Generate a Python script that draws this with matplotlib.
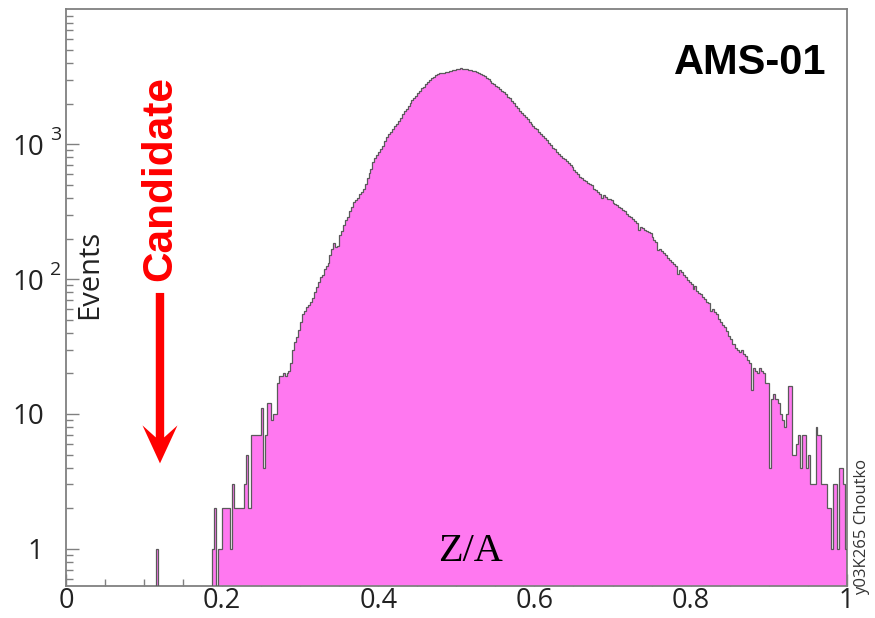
import numpy as np
import matplotlib
matplotlib.use("Agg")
import matplotlib.pyplot as plt
from matplotlib.patches import Polygon
from matplotlib.transforms import ScaledTranslation, blended_transform_factory
from matplotlib.ticker import FixedLocator, FixedFormatter, MultipleLocator, LogLocator, NullFormatter

plt.rcParams['font.family'] = ['Open Sans', 'DejaVu Sans']

# ---- histogram data: Z/A in bins of 0.0025 from 0 to 1 ----
bin_width = 0.0025
n_bins = 400
candidate_bin = 46          # 0.115 - 0.1175
candidate_count = 1
body_first_bin = 75         # first filled bin of the main population (0.1875)
body_counts = [
    1, 2, 0, 1, 1, 2, 2, 2, 2, 1,
    3, 2, 2, 2, 2, 2, 3, 5, 2, 2,
    7, 7, 7, 7, 7, 11, 4, 7, 12, 12,
    9, 10, 10, 17, 19, 19, 20, 19, 20, 21,
    24, 30, 34, 37, 42, 48, 55, 58, 62, 64,
    68, 72, 80, 88, 96, 103, 108, 118, 126, 132,
    150, 166, 184, 172, 176, 212, 228, 250, 273, 290,
    318, 342, 373, 385, 402, 425, 446, 468, 510, 560,
    612, 660, 740, 790, 830, 880, 930, 975, 1060, 1140,
    1195, 1240, 1300, 1360, 1420, 1500, 1570, 1670, 1760, 1830,
    1920, 2040, 2120, 2200, 2300, 2410, 2500, 2600, 2680, 2790,
    2900, 2990, 3080, 3150, 3270, 3330, 3350, 3380, 3400, 3430,
    3420, 3480, 3510, 3540, 3580, 3600, 3620, 3650, 3630, 3640,
    3600, 3580, 3550, 3510, 3480, 3430, 3390, 3330, 3270, 3220,
    3120, 3040, 2950, 2860, 2780, 2700, 2640, 2560, 2500, 2440,
    2350, 2260, 2190, 2090, 2010, 1930, 1860, 1780, 1720, 1660,
    1600, 1540, 1470, 1420, 1360, 1320, 1290, 1240, 1200, 1150,
    1110, 1070, 1020, 980, 940, 920, 880, 850, 820, 795,
    775, 750, 730, 700, 680, 650, 625, 600, 575, 560,
    545, 530, 520, 510, 500, 470, 460, 440, 430, 400,
    420, 405, 395, 390, 385, 370, 362, 352, 345, 338,
    325, 318, 305, 296, 288, 278, 270, 260, 232, 245,
    238, 232, 228, 222, 218, 205, 195, 188, 165, 168,
    162, 155, 150, 144, 139, 134, 130, 125, 110, 117,
    112, 108, 104, 99, 96, 92, 85, 89, 82, 79,
    77, 74, 71, 68, 66, 58, 60, 57, 55, 51,
    48, 46, 44, 41, 38, 36, 33, 33, 31, 30,
    29, 30, 28, 27, 25, 24, 15, 22, 21, 20,
    22, 21, 20, 17, 17, 4, 13, 14, 13, 13,
    12, 10, 9, 8, 10, 16, 16, 5, 5, 6,
    7, 4, 7, 7, 4, 5, 3, 3, 3, 8,
    7, 7, 3, 3, 3, 2, 2, 1, 3, 3,
    1, 4, 4, 3, 1,
]

# candidate marker (arrow from ~79 events down to ~4.3 events at Z/A = 0.12)
arrow_z = 0.1204
arrow_tip = 4.3
arrow_top = 79

x_ticks = [0, 0.2, 0.4, 0.6, 0.8, 1.0]
x_tick_labels = ['0', '0.2', '0.4', '0.6', '0.8', '1']
y_ticks = [1, 10, 100, 1000]
y_tick_labels = ['1', '10', '10', '10']
y_exponents = {100: '2', 1000: '3'}

# ---- assemble histogram ----
counts = np.zeros(n_bins)
counts[candidate_bin] = candidate_count
counts[body_first_bin:body_first_bin + len(body_counts)] = body_counts
edges = np.arange(n_bins + 1) * bin_width

floor = 0.1
draw_vals = np.where(counts > 0, counts, floor)

fig = plt.figure(figsize=(8.75, 6.18), dpi=100)
ax = fig.add_axes([0.0754, 0.0518, 0.8923, 0.9329])
ax.set_yscale('log')
ax.set_xlim(0, 1)
ax.set_ylim(0.53, 1.0e4)

pink = '#ff78f0'
ax.stairs(draw_vals, edges, baseline=floor, fill=True, color=pink, zorder=2)
ax.stairs(draw_vals, edges, baseline=floor, fill=False, color='#5a5a5a',
          linewidth=0.9, zorder=3)

# frame and ticks
for sp in ax.spines.values():
    sp.set_color('#808080')
    sp.set_linewidth(1.3)
ax.xaxis.set_major_locator(FixedLocator(x_ticks))
ax.xaxis.set_major_formatter(FixedFormatter(x_tick_labels))
ax.xaxis.set_minor_locator(MultipleLocator(0.05))
ax.yaxis.set_major_locator(FixedLocator(y_ticks))
ax.yaxis.set_major_formatter(FixedFormatter(y_tick_labels))
ax.yaxis.set_minor_locator(LogLocator(base=10, subs=np.arange(2, 10), numticks=20))
ax.yaxis.set_minor_formatter(NullFormatter())
ax.tick_params(which='both', direction='in', color='#808080', width=1.0,
               top=False, right=False, labelsize=20, labelcolor='#222222')
ax.tick_params(which='major', length=9)
ax.tick_params(which='minor', length=5)
ax.tick_params(axis='x', pad=1, labelsize=19.5)
ax.tick_params(axis='y', pad=16)

# exponents of the decade labels
ytrans = blended_transform_factory(ax.transAxes, ax.transData)
for val, exp in y_exponents.items():
    ax.text(-0.0135, val, exp, transform=ytrans, fontsize=14, color='#222222',
            ha='center', va='bottom')

# labels and annotations
ax.text(0.0307, 0.541, 'Events', transform=ax.transAxes, rotation=90,
        fontsize=21, color='#222222', ha='center', va='center')
ax.text(0.5175, 0.059, 'Z/A', transform=ax.transAxes, fontsize=29,
        family=['Liberation Serif', 'DejaVu Serif'], ha='center', va='center')
ax.text(0.876, 0.907, 'AMS-01', transform=ax.transAxes, fontsize=30,
        fontweight='bold', family=['Liberation Sans', 'DejaVu Sans'],
        ha='center', va='center')
ax.text(arrow_z, 0.706, 'Candidate', transform=blended_transform_factory(ax.transData, ax.transAxes),
        rotation=90, fontsize=30.5, fontweight='bold', color='#ff0000',
        family=['Liberation Sans Narrow', 'Liberation Sans', 'DejaVu Sans'],
        ha='center', va='center')

# arrow: shape in inches relative to the tip
shaft_len = (np.log10(arrow_top) - np.log10(arrow_tip))
tip_trans = fig.dpi_scale_trans + ScaledTranslation(arrow_z, arrow_tip, ax.transData)
def arrow_shape(length_in):
    hw, hl, notch, sw = 0.175, 0.38, 0.26, 0.042
    return [(0, 0), (hw, hl), (sw, notch), (sw, length_in), (-sw, length_in),
            (-sw, notch), (-hw, hl)]
axis_h_in = 0.9329 * 6.18
decades = np.log10(1.0e4) - np.log10(0.53)
length_in = shaft_len / decades * axis_h_in
ax.add_patch(Polygon(arrow_shape(length_in), closed=True, transform=tip_trans,
                     facecolor='#ff0000', edgecolor='none', zorder=5, clip_on=False))

fig.text(0.985, 0.147, 'y03K265 Choutko', rotation=90, fontsize=12,
         color='#333333', ha='center', va='center')

fig.savefig('out.png', dpi=100)
